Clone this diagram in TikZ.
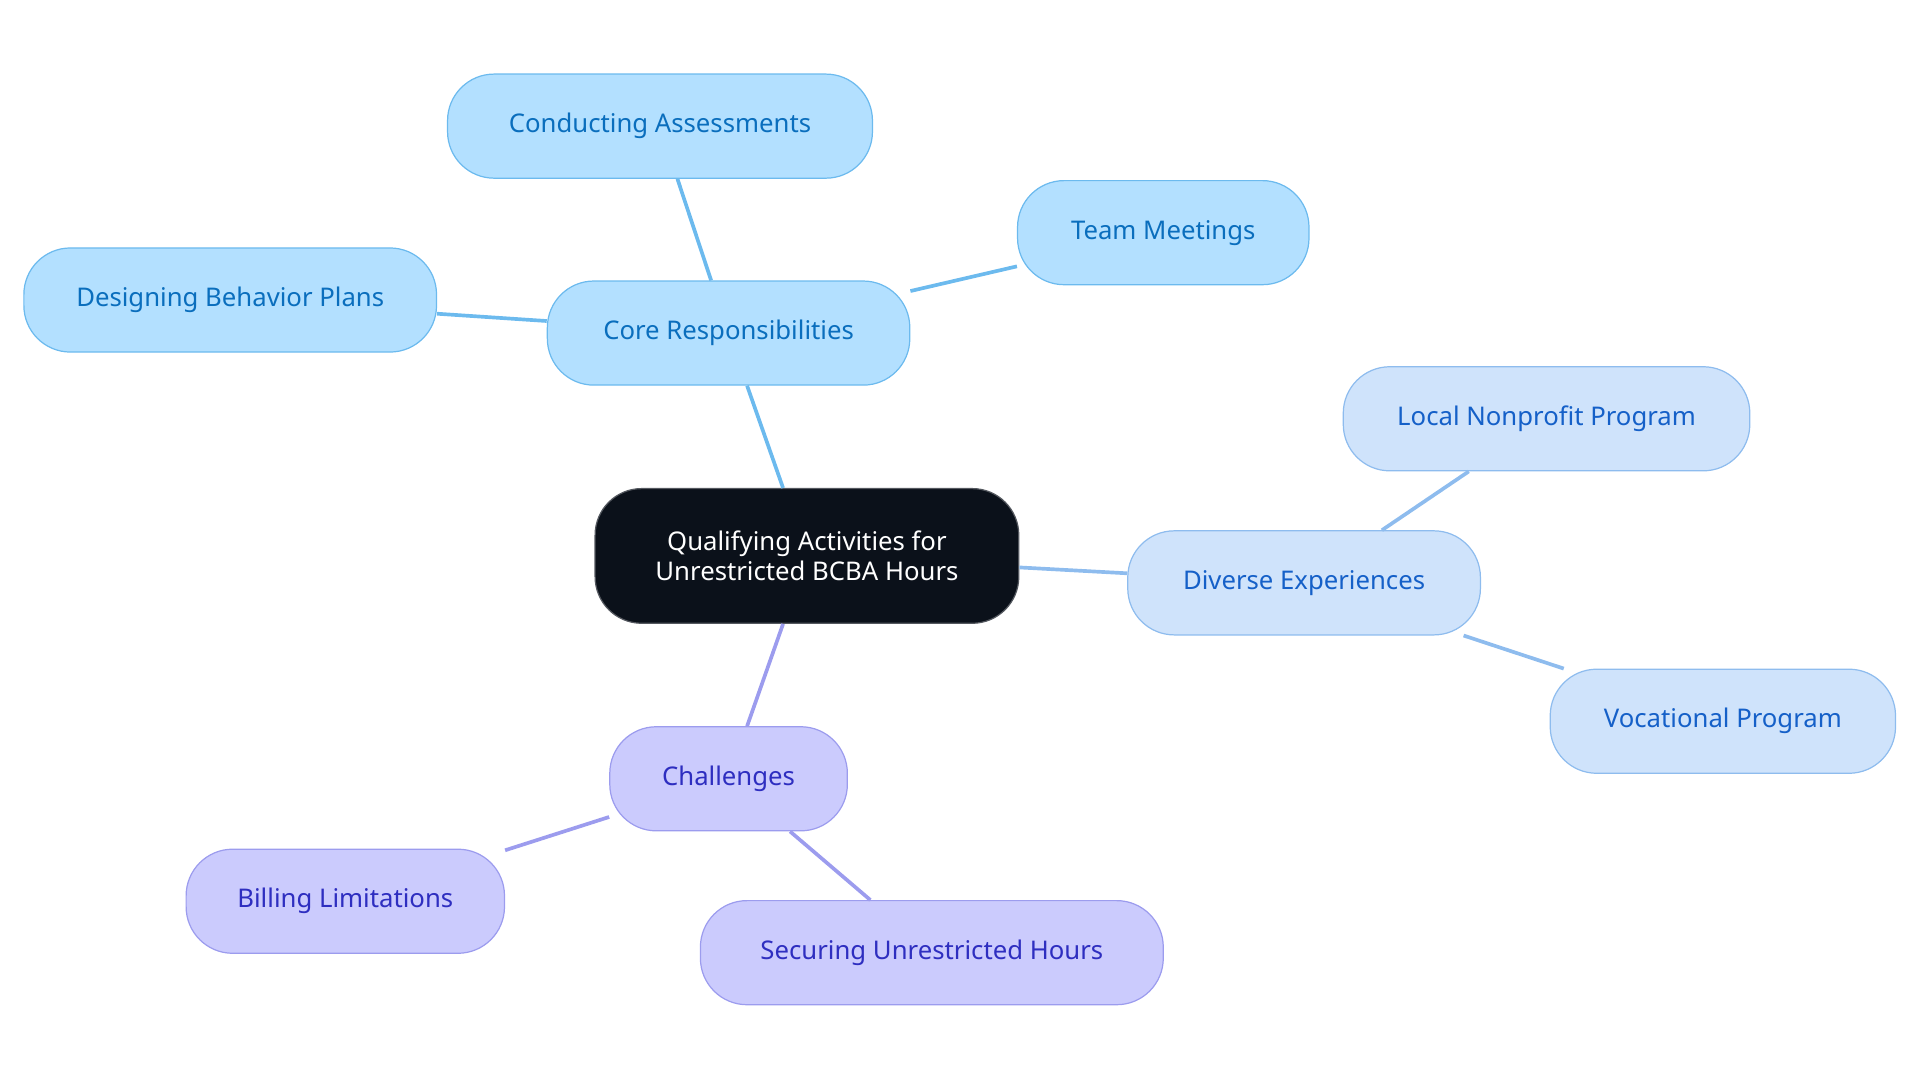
\documentclass[tikz,border=0pt]{standalone}
\usepackage{fontspec}
\setmainfont{Noto Sans}
\definecolor{cfill}{HTML}{B3E0FF}\definecolor{cdraw}{HTML}{6CBAEE}\definecolor{ctext}{HTML}{0A6EBD}
\definecolor{dfill}{HTML}{CFE3FB}\definecolor{ddraw}{HTML}{8EBCEE}\definecolor{dtext}{HTML}{1560C8}
\definecolor{pfill}{HTML}{CBCBFD}\definecolor{pdraw}{HTML}{9C9CEE}\definecolor{ptext}{HTML}{2E2EC0}
\definecolor{root}{HTML}{0B111A}
\begin{document}
\begin{tikzpicture}[x=1pt,y=-1pt,
 base/.style={rounded corners=38pt,line width=1pt,font=\fontsize{21}{25}\selectfont,inner sep=0pt},
 cn/.style={base,fill=cfill,draw=cdraw,text=ctext},
 dn/.style={base,fill=dfill,draw=ddraw,text=dtext},
 pn/.style={base,fill=pfill,draw=pdraw,text=ptext},
 ce/.style={draw=cdraw,line width=3pt},
 de/.style={draw=ddraw,line width=3pt},
 pe/.style={draw=pdraw,line width=3pt}]
\useasboundingbox (0,0) rectangle (1568,884);
\node[base,fill=root,draw=root!70!white,text=white,minimum width=346pt,minimum height=110pt,align=center,font=\fontsize{21}{25}\selectfont] (r) at (659,454) {Qualifying Activities for\\Unrestricted BCBA Hours};
\node[cn,minimum width=296pt,minimum height=85pt] (core) at (595,272) {Core Responsibilities};
\node[cn,minimum width=347pt,minimum height=85pt] (ca) at (539,103) {Conducting Assessments};
\node[cn,minimum width=238pt,minimum height=85pt] (tm) at (950,190) {Team Meetings};
\node[cn,minimum width=337pt,minimum height=85pt] (db) at (188,245) {Designing Behavior Plans};
\node[dn,minimum width=288pt,minimum height=85pt] (de) at (1065,476) {Diverse Experiences};
\node[dn,minimum width=332pt,minimum height=85pt] (ln) at (1263,342) {Local Nonprofit Program};
\node[dn,minimum width=282pt,minimum height=85pt] (vp) at (1407,589) {Vocational Program};
\node[pn,minimum width=194pt,minimum height=85pt] (ch) at (595,636) {Challenges};
\node[pn,minimum width=260pt,minimum height=85pt] (bl) at (282,736) {Billing Limitations};
\node[pn,minimum width=378pt,minimum height=85pt] (su) at (761,778) {Securing Unrestricted Hours};
\begin{scope}[on background layer/.style={}]
\end{scope}
\path[ce] (r) -- (core);
\path[ce] (core) -- (ca);
\path[ce] (core) -- (tm);
\path[ce] (core) -- (db);
\path[de] (r) -- (de);
\path[de] (de) -- (ln);
\path[de] (de) -- (vp);
\path[pe] (r) -- (ch);
\path[pe] (ch) -- (bl);
\path[pe] (ch) -- (su);
\end{tikzpicture}
\end{document}
